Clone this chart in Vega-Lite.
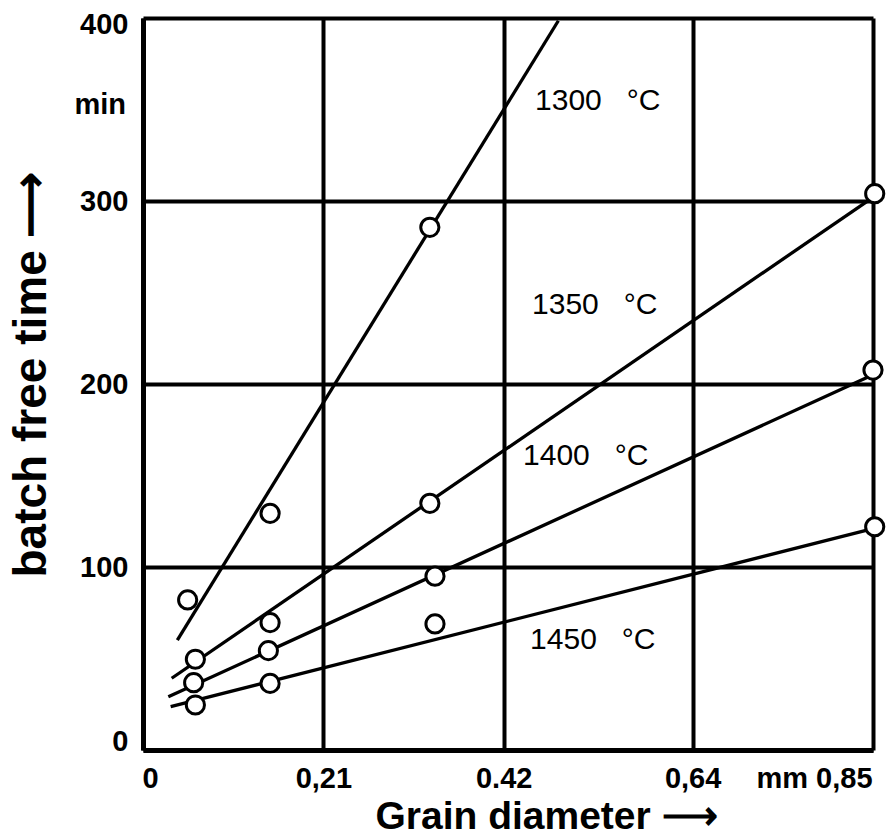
{
  "$schema": "https://vega.github.io/schema/vega-lite/v6.json",
  "width": 730,
  "height": 732,
  "autosize": {"type": "none"},
  "padding": {"left": 143, "top": 18, "right": 14, "bottom": 90},
  "background": "white",
  "view": {"stroke": null},
  "config": {"font": "Liberation Sans"},
  "datasets": {
    "lines": [
      {"series": "1300", "x": 0.040, "y": 60.1},
      {"series": "1300", "x": 0.4836, "y": 398.5},
      {"series": "1350", "x": 0.0334, "y": 39.2},
      {"series": "1350", "x": 0.85, "y": 302},
      {"series": "1400", "x": 0.0295, "y": 29.1},
      {"series": "1400", "x": 0.85, "y": 205},
      {"series": "1450", "x": 0.0322, "y": 23.7},
      {"series": "1450", "x": 0.85, "y": 121}
    ],
    "points": [
      {"series": "1300", "x": 0.052, "y": 82},
      {"series": "1300", "x": 0.148, "y": 129.3},
      {"series": "1300", "x": 0.334, "y": 285.6},
      {"series": "1350", "x": 0.061, "y": 49.6},
      {"series": "1350", "x": 0.148, "y": 69.6},
      {"series": "1350", "x": 0.334, "y": 134.8},
      {"series": "1350", "x": 0.852, "y": 304},
      {"series": "1400", "x": 0.059, "y": 36.8},
      {"series": "1400", "x": 0.146, "y": 54.3},
      {"series": "1400", "x": 0.34, "y": 95},
      {"series": "1400", "x": 0.85, "y": 207.6},
      {"series": "1450", "x": 0.061, "y": 24.6},
      {"series": "1450", "x": 0.148, "y": 36.4},
      {"series": "1450", "x": 0.34, "y": 68.9},
      {"series": "1450", "x": 0.852, "y": 122}
    ],
    "labels": [
      {"label": "1300\u2002\u2004°C", "x": 0.4565, "y": 354.6},
      {"label": "1350\u2002\u2004°C", "x": 0.453, "y": 243.2},
      {"label": "1400\u2002\u2004°C", "x": 0.4425, "y": 160.7},
      {"label": "1450\u2002\u2004°C", "x": 0.4507, "y": 60.1}
    ],
    "units": [
      {"label": "min", "x": -0.0198, "y": 352.5}
    ]
  },
  "encoding": {
    "x": {
      "field": "x", "type": "quantitative",
      "scale": {"domain": [0, 0.85], "nice": false, "zero": false},
      "axis": {
        "orient": "bottom",
        "values": [0, 0.21, 0.42, 0.64, 0.85],
        "labelExpr": "datum.value == 0 ? '0' : datum.value == 0.21 ? '0,21' : datum.value == 0.42 ? '0.42' : datum.value == 0.64 ? '0,64' : 'mm 0,85'",
        "labelFont": "Liberation Sans",
        "labelFontWeight": "bold",
        "labelFontSize": 29,
        "labelColor": "black",
        "labelPadding": 14,
        "labelOffset": {"condition": [{"test": "datum.value == 0.85", "value": -59}, {"test": "datum.value == 0", "value": 7}], "value": 0},
        "labelFlush": false,
        "labelOverlap": false,
        "ticks": false,
        "domain": true,
        "domainColor": "black",
        "domainWidth": 5,
        "grid": true,
        "gridColor": "black",
        "gridWidth": 4,
        "gridOpacity": 1,
        "title": "Grain diameter  ⟶",
        "titleFont": "Liberation Sans",
        "titleFontWeight": "bold",
        "titleFontSize": 39,
        "titleColor": "black",
        "titleAlign": "center",
        "titleBaseline": "alphabetic",
        "titleX": 403,
        "titleY": 78
      }
    },
    "y": {
      "field": "y", "type": "quantitative",
      "scale": {"domain": [0, 400], "nice": false, "zero": false},
      "axis": {
        "orient": "left",
        "values": [0, 100, 200, 300, 400],
        "labelFont": "Liberation Sans",
        "labelFontWeight": "bold",
        "labelFontSize": 29,
        "labelColor": "black",
        "labelPadding": 15,
        "labelBaseline": "middle",
        "labelOffset": {"condition": [{"test": "datum.value == 0", "value": -9}, {"test": "datum.value == 400", "value": 6}], "value": 0},
        "labelFlush": false,
        "labelOverlap": false,
        "ticks": false,
        "domain": true,
        "domainColor": "black",
        "domainWidth": 5,
        "grid": true,
        "gridColor": "black",
        "gridWidth": 4,
        "gridOpacity": 1,
        "title": "batch free time  ⟶",
        "titleFont": "Liberation Sans",
        "titleFontWeight": "bold",
        "titleFontSize": 46,
        "titleColor": "black",
        "titleAngle": -90,
        "titleAlign": "center",
        "titleBaseline": "middle",
        "titleX": -112,
        "titleY": 356
      }
    }
  },
  "layer": [
    {
      "data": {"name": "lines"},
      "mark": {"type": "line", "color": "black", "strokeWidth": 3.3},
      "encoding": {
        "detail": {"field": "series", "type": "nominal"}
      }
    },
    {
      "data": {"name": "points"},
      "mark": {"type": "point", "shape": "circle", "size": 330, "filled": false, "fill": "white", "fillOpacity": 1, "stroke": "black", "strokeWidth": 3, "opacity": 1},
      "encoding": {}
    },
    {
      "data": {"name": "labels"},
      "mark": {"type": "text", "align": "left", "baseline": "middle", "font": "Liberation Sans", "fontSize": 30, "color": "black"},
      "encoding": {
        "text": {"field": "label", "type": "nominal"}
      }
    },
    {
      "data": {"name": "units"},
      "mark": {"type": "text", "align": "right", "baseline": "middle", "font": "Liberation Sans", "fontWeight": "bold", "fontSize": 29, "color": "black"},
      "encoding": {
        "text": {"field": "label", "type": "nominal"}
      }
    }
  ]
}
